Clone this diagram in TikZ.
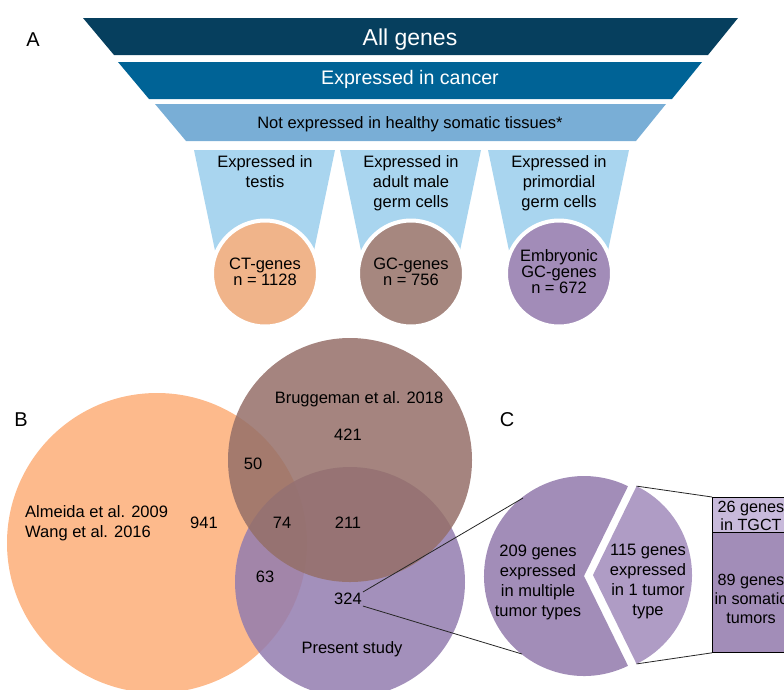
\documentclass[tikz,border=0pt]{standalone}
\usepackage{fontspec}
\setmainfont{Liberation Sans}
\definecolor{navy}{HTML}{063F5E}
\definecolor{ocean}{HTML}{006396}
\definecolor{steel}{HTML}{79AED6}
\definecolor{skyblue}{HTML}{A9D5EF}
\definecolor{ctpeach}{HTML}{F0B48A}
\definecolor{gcbrown}{HTML}{A6877F}
\definecolor{embpurple}{HTML}{A28CB8}
\definecolor{vpeach}{HTML}{FDBA8C}
\definecolor{vpurple}{HTML}{937CAF}
\definecolor{vbrown}{HTML}{956F68}
\definecolor{piedark}{HTML}{A28DB8}
\definecolor{pielight}{HTML}{AF9CC5}
\definecolor{boxlight}{HTML}{C8BADB}
\tikzset{
	txt/.style = {font = \fontsize{16.5}{20}\selectfont, align = center, inner sep = 1pt},
	tight/.style = {font = \fontsize{16.5}{14.5}\selectfont, align = center, inner sep = 1pt},
	panel/.style = {font = \fontsize{20}{24}\selectfont, inner sep = 0pt},
	gene/.style = {circle, minimum size = 106, draw = white, line width = 4, inner sep = 0pt},
	link/.style = {draw = black!85, line width = .8},
	tgbox/.style = {draw = black, line width = .8, minimum width = 76, inner sep = 0pt}
}

\begin{document}
\begin{tikzpicture}[x = 1pt, y = -1pt]
	\useasboundingbox (0, 0) rectangle (784, 689);
	\clip (0, 0) rectangle (784, 689);
	\node[panel] (labA) at (33, 40) {A};
	\node[panel] (labB) at (21, 420) {B};
	\node[panel] (labC) at (507, 420) {C};
	\foreach \y/\l/\r/\col in {18/83/738/navy, 62/118/702/ocean, 104/155/666/steel}{
		\fill[\col] (\l, \y) -- (\r, \y) -- (\r-30, \y+37) -- (\l+31, \y+37) -- cycle;}
	\node[txt, text = white, font = \fontsize{23}{26}\selectfont] (allgenes) at (410, 40) {All genes};
	\node[txt, text = white, font = \fontsize{19.6}{22}\selectfont] (cancer) at (410, 79) {Expressed in cancer};
	\node[txt] (somatic) at (410, 124) {Not expressed in healthy somatic tissues*};
	\foreach \x/\col/\name/\top/\inner in {265/ctpeach/ct/{Expressed in\\testis}/{CT-genes\\n = 1128},
		411/gcbrown/gc/{Expressed in\\adult male\\germ cells}/{GC-genes\\n = 756},
		559/embpurple/emb/{Expressed in\\primordial\\germ cells}/{Embryonic\\GC-genes\\n = 672}}{
		\fill[skyblue] (\x-71, 150) -- (\x+70, 150) -- (\x+46, 265) -- (\x-47, 265) -- cycle;
		\node[txt, anchor = north] (\name top) at (\x, 154) {\top};
		\node[gene, fill = \col] (\name) at (\x, 273.5) {};
		\node[tight] (\name txt) at (\x, 272) {\inner};}
	\fill[vpeach] (157, 543) circle[radius = 150];
	\fill[vpurple, opacity = .85] (350, 582) circle[radius = 115];
	\fill[vbrown, opacity = .85] (350, 460) circle[radius = 122];
	\node[txt] (brug) at (359, 399) {Bruggeman et al. 2018};
	\node[txt, align = left, anchor = west] (alm) at (24, 523) {Almeida et al. 2009\\Wang et al. 2016};
	\node[txt] (present) at (352, 649) {Present study};
	\foreach \x/\y/\num in {348/435/421, 253/464/50, 282/523/74, 348/523/211, 204/523/941, 265/577/63}{
		\node[txt] (n\num) at (\x, \y) {\num};}
	\node[txt] (n324) at (348, 599) {324};
	\fill[piedark] (584, 576) -- ++(63.9:100) arc[start angle = 63.9, end angle = 296.1, radius = 100] -- cycle;
	\fill[pielight] (593, 575) -- ++(-63.9:99) arc[start angle = -63.9, end angle = 63.9, radius = 99] -- cycle;
	\coordinate (pietop) at (523, 498);
	\coordinate (piebot) at (522, 654);
	\coordinate (slicetop) at (636.6, 486.1);
	\coordinate (slicebot) at (636.6, 663.9);
	\node[txt] (multi) at (538, 582) {209 genes\\expressed\\in multiple\\tumor types};
	\node[txt] (single) at (648, 582) {115 genes\\expressed\\in 1 tumor\\type};
	\node[tgbox, fill = boxlight, minimum height = 35, anchor = north west] (tgct) at (712, 497) {};
	\node[tgbox, fill = piedark, minimum height = 120, anchor = north west] (soma) at (712, 532) {};
	\node[txt, font = \fontsize{16.2}{18}\selectfont] (tgcttxt) at (751, 516) {26 genes\\in TGCT};
	\node[txt, font = \fontsize{16.2}{19}\selectfont] (somatxt) at (751, 599) {89 genes\\in somatic\\tumors};
	\draw[link] (n324.north east) -- (pietop);
	\draw[link] (n324.south east) -- (piebot);
	\draw[link] (slicetop) -- (tgct.north west);
	\draw[link] (slicebot) -- (soma.south west);
\end{tikzpicture}
\end{document}
